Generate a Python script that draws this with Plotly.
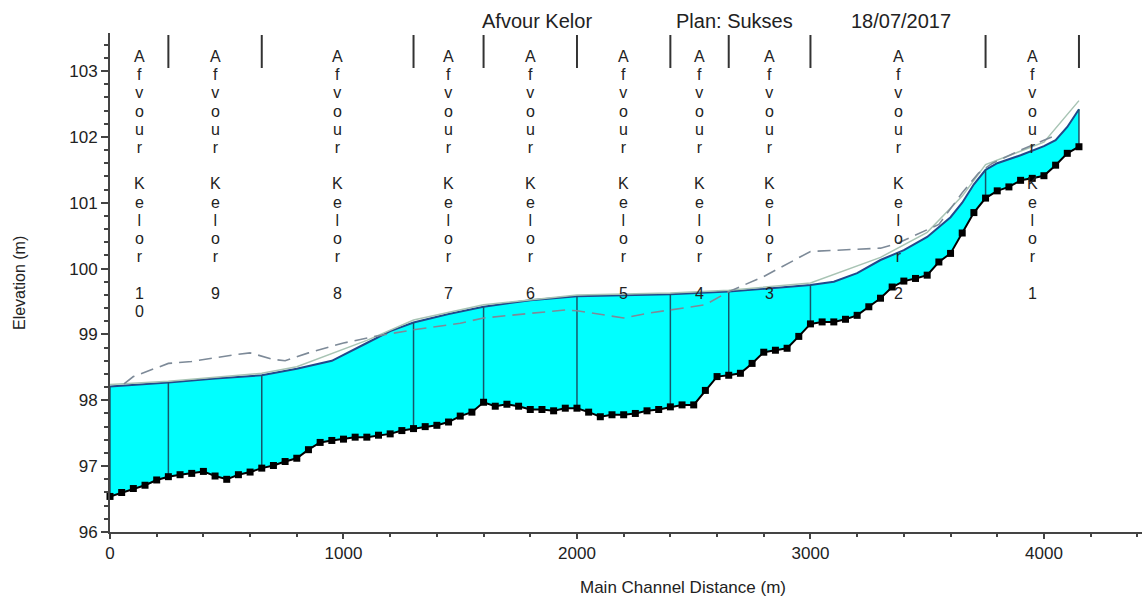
import plotly.graph_objects as go
import numpy as np

# ---------------- data ----------------
bed_dist = [0, 50, 100, 150, 200, 250, 300, 350, 400, 450, 500, 550, 600, 650, 700, 750,
            800, 850, 900, 950, 1000, 1050, 1100, 1150, 1200, 1250, 1300, 1350, 1400, 1450,
            1500, 1550, 1600, 1650, 1700, 1750, 1800, 1850, 1900, 1950, 2000, 2050, 2100,
            2150, 2200, 2250, 2300, 2350, 2400, 2450, 2500, 2550, 2600, 2650, 2700, 2750,
            2800, 2850, 2900, 2950, 3000, 3050, 3100, 3150, 3200, 3250, 3300, 3350, 3400,
            3450, 3500, 3550, 3600, 3650, 3700, 3750, 3800, 3850, 3900, 3950, 4000, 4050,
            4100, 4150]
bed_elev = [96.54, 96.60, 96.66, 96.71, 96.79, 96.84, 96.87, 96.89, 96.92, 96.85, 96.80,
            96.87, 96.91, 96.97, 97.01, 97.07, 97.12, 97.25, 97.36, 97.39, 97.41, 97.44,
            97.44, 97.47, 97.49, 97.54, 97.57, 97.60, 97.62, 97.67, 97.76, 97.82, 97.97,
            97.91, 97.94, 97.91, 97.86, 97.86, 97.84, 97.88, 97.88, 97.82, 97.75, 97.78,
            97.78, 97.80, 97.84, 97.86, 97.90, 97.93, 97.93, 98.15, 98.36, 98.38, 98.41,
            98.56, 98.73, 98.76, 98.79, 98.97, 99.16, 99.19, 99.19, 99.23, 99.29, 99.42,
            99.55, 99.72, 99.81, 99.85, 99.90, 100.10, 100.23, 100.54, 100.85, 101.07,
            101.18, 101.24, 101.34, 101.37, 101.41, 101.57, 101.75, 101.85]

ws_dist = [0, 100, 250, 450, 650, 800, 950, 1100, 1200, 1300, 1450, 1600, 1800, 2000,
           2200, 2400, 2650, 3000, 3100, 3200, 3300, 3400, 3500, 3600, 3650, 3700, 3750,
           3800, 3900, 4000, 4050, 4100, 4150]
ws_elev = [98.21, 98.23, 98.27, 98.33, 98.38, 98.48, 98.60, 98.87, 99.05, 99.18, 99.31,
           99.42, 99.52, 99.58, 99.60, 99.61, 99.65, 99.75, 99.80, 99.93, 100.13, 100.28,
           100.48, 100.78, 101.00, 101.28, 101.50, 101.60, 101.72, 101.86, 101.95, 102.15,
           102.42]

eg_dist = [0, 250, 650, 800, 1100, 1300, 1600, 2000, 2400, 2650, 3000, 3300, 3500, 3650,
           3750, 3900, 4000, 4150]
eg_elev = [98.24, 98.29, 98.41, 98.51, 98.91, 99.22, 99.45, 99.60, 99.63, 99.67, 99.78,
           100.17, 100.55, 101.10, 101.58, 101.78, 101.92, 102.55]

dash_dist = [60, 100, 250, 350, 550, 600, 700, 750, 850, 1000, 1150, 1300, 1500, 1600,
             1800, 1950, 2000, 2100, 2200, 2300, 2450, 2550, 2650, 2800, 3000, 3150, 3300,
             3370, 3550, 3650, 3720, 3780, 3900, 4000, 4050]
dash_elev = [98.25, 98.36, 98.56, 98.59, 98.70, 98.72, 98.62, 98.60, 98.72, 98.87, 98.98,
             99.07, 99.17, 99.25, 99.32, 99.37, 99.36, 99.30, 99.25, 99.32, 99.40, 99.45,
             99.65, 99.88, 100.26, 100.28, 100.31, 100.38, 100.67, 101.15, 101.45, 101.60,
             101.80, 101.95, 102.02]

section_dist = [0, 250, 650, 1300, 1600, 2000, 2400, 2650, 3000, 3750, 4150]
section_labels = ["10", "9", "8", "7", "6", "5", "4", "3", "2", "1"]
reach_name = ["Afvour", "Kelor"]
title_parts = ["Afvour Kelor", "Plan: Sukses", "18/07/2017"]

x_ticks = [0, 1000, 2000, 3000, 4000]
y_ticks = [96, 97, 98, 99, 100, 101, 102, 103]

# ---------------- layout geometry ----------------
W, H = 1142, 601
ML, MR, MT, MB = 110, 0, 33, 69
PW, PH = W - ML - MR, H - MT - MB
X_RANGE = [0, 4420]
Y_RANGE = [96, 103.577]


def px_to_paper_x(px):
    return (px - ML) / PW


def px_to_paper_y(py):
    return (H - MB - py) / PH


TEXT = "#222222"
FONT = "Liberation Sans, Arial, sans-serif"

fig = go.Figure()

# base for fill (bed)
fig.add_trace(go.Scatter(x=bed_dist, y=bed_elev, mode="lines",
                         line=dict(color="rgba(0,0,0,0)", width=0),
                         showlegend=False, hoverinfo="skip"))
# water surface with fill
fig.add_trace(go.Scatter(x=ws_dist, y=ws_elev, mode="lines", fill="tonexty",
                         fillcolor="#00FFFF", line=dict(color="#1f4a8c", width=2),
                         showlegend=False, name="WS"))

# vertical cross-section lines in the water
bed_at_sec = np.interp(section_dist, bed_dist, bed_elev)
ws_at_sec = np.interp(section_dist, ws_dist, ws_elev)
vx, vy = [], []
for s, b, w in zip(section_dist, bed_at_sec, ws_at_sec):
    vx += [s, s, None]
    vy += [b, w, None]
fig.add_trace(go.Scatter(x=vx, y=vy, mode="lines",
                         line=dict(color="#17566a", width=1.5),
                         showlegend=False, hoverinfo="skip"))

# energy grade line
fig.add_trace(go.Scatter(x=eg_dist, y=eg_elev, mode="lines",
                         line=dict(color="#a8c4b4", width=1.5),
                         showlegend=False, name="EG"))
# dashed line
fig.add_trace(go.Scatter(x=dash_dist, y=dash_elev, mode="lines",
                         line=dict(color="#7d8a98", width=1.6, dash="13px,7px"),
                         showlegend=False, name="WS 2"))
# ground
fig.add_trace(go.Scatter(x=bed_dist, y=bed_elev, mode="lines+markers",
                         line=dict(color="#000000", width=2),
                         marker=dict(symbol="square", size=7, color="#000000"),
                         cliponaxis=False, showlegend=False, name="Ground"))

# top tick marks at cross sections
shapes = []
for s in section_dist[1:]:
    shapes.append(dict(type="line", xref="x", yref="paper", x0=s, x1=s,
                       y0=px_to_paper_y(68), y1=px_to_paper_y(35),
                       line=dict(color="#333333", width=2)))

annotations = []
# vertical stacked labels
for i, lab in enumerate(section_labels):
    mid = (section_dist[i] + section_dist[i + 1]) / 2
    chars = list(reach_name[0]) + [" "] + list(reach_name[1]) + [" "] + list(lab)
    txt = "<br>".join("<span style='font-size:16px'>%s</span>" % c for c in chars)
    annotations.append(dict(x=mid, y=px_to_paper_y(46), xref="x", yref="paper",
                            text=txt, showarrow=False, xanchor="center", yanchor="top",
                            align="center", font=dict(family=FONT, size=14, color=TEXT)))

# title pieces
for part, cx in zip(title_parts, [537, 734, 901]):
    annotations.append(dict(x=px_to_paper_x(cx), y=px_to_paper_y(21), xref="paper", yref="paper",
                            text=part, showarrow=False, xanchor="center", yanchor="middle",
                            font=dict(family=FONT, size=20, color=TEXT)))

# axis titles
annotations.append(dict(x=px_to_paper_x(683), y=px_to_paper_y(587), xref="paper", yref="paper",
                        text="Main Channel Distance (m)", showarrow=False,
                        xanchor="center", yanchor="middle",
                        font=dict(family=FONT, size=17, color=TEXT)))
annotations.append(dict(x=px_to_paper_x(19), y=px_to_paper_y(283), xref="paper", yref="paper",
                        text="Elevation (m)", showarrow=False, textangle=-90,
                        xanchor="center", yanchor="middle",
                        font=dict(family=FONT, size=16, color=TEXT)))

fig.update_layout(
    width=W, height=H,
    margin=dict(l=ML, r=MR, t=MT, b=MB, pad=0),
    paper_bgcolor="white", plot_bgcolor="white",
    showlegend=False,
    shapes=shapes, annotations=annotations,
    xaxis=dict(range=X_RANGE, tickvals=x_ticks, ticktext=[str(v) for v in x_ticks],
               showgrid=False, zeroline=False, showline=True, linecolor="#444444",
               linewidth=2, ticks="outside", ticklen=5, tickwidth=1.5, tickcolor="#444444",
               minor=dict(dtick=200, ticks="outside", ticklen=3, tickcolor="#444444",
                          showgrid=False),
               tickfont=dict(family=FONT, size=17, color=TEXT)),
    yaxis=dict(range=Y_RANGE, tickvals=y_ticks, ticktext=[str(v) for v in y_ticks],
               showgrid=False, zeroline=False, showline=True, linecolor="#444444",
               linewidth=2, ticks="outside", ticklen=7, tickwidth=1.5, tickcolor="#444444",
               minor=dict(dtick=0.2, ticks="outside", ticklen=4, tickcolor="#444444",
                          showgrid=False),
               tickfont=dict(family=FONT, size=17, color=TEXT)),
)

fig.write_html("out.html")
